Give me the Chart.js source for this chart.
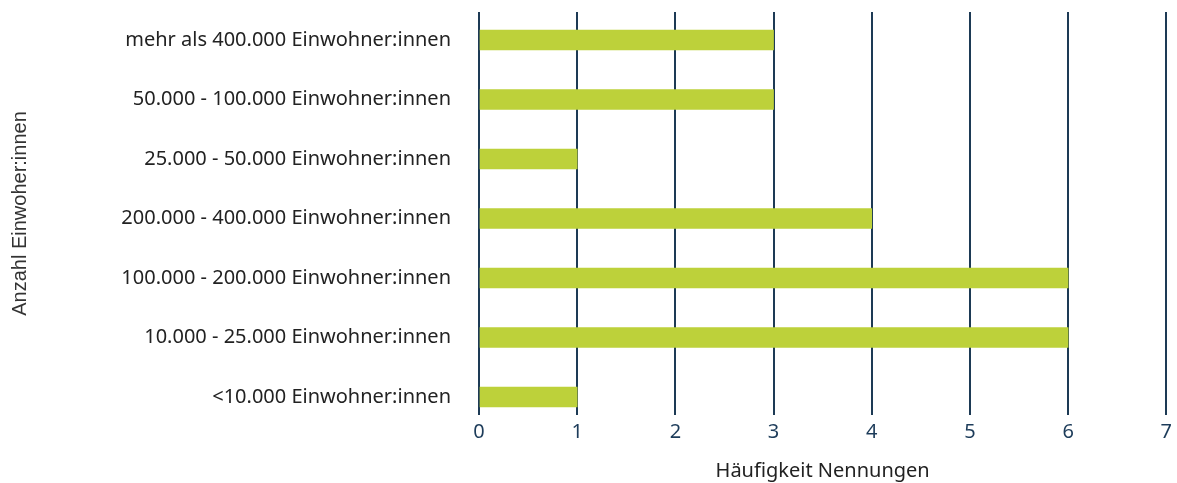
<!DOCTYPE html>
<html>
<head>
<meta charset="utf-8">
<script src="https://cdn.jsdelivr.net/npm/chart.js@4/dist/chart.umd.min.js"></script>
<style>
html,body{margin:0;padding:0;background:#fff;}
#wrap{width:1177px;height:483px;}
</style>
</head>
<body>
<div id="wrap"><canvas id="c" width="1177" height="483"></canvas></div>
<script>
const categories = [
  "mehr als 400.000 Einwohner:innen",
  "50.000 - 100.000 Einwohner:innen",
  "25.000 - 50.000 Einwohner:innen",
  "200.000 - 400.000 Einwohner:innen",
  "100.000 - 200.000 Einwohner:innen",
  "10.000 - 25.000 Einwohner:innen",
  "<10.000 Einwohner:innen"
];
const values = [3, 3, 1, 4, 6, 6, 1];
const xTicks = [0, 1, 2, 3, 4, 5, 6, 7];
const xTitle = "Häufigkeit Nennungen";
const yTitle = "Anzahl Einwoher:innen";

const FONT = "'Noto Sans', sans-serif";
const data = values.map((v, i) => ({ x: v, y: i }));
const LEFT_PAD = 8;

const chart = new Chart(document.getElementById('c'), {
  type: 'bar',
  data: {
    datasets: [{
      data: data,
      backgroundColor: '#bdd13a',
      borderWidth: 0,
      barThickness: 20
    }]
  },
  options: {
    indexAxis: 'y',
    responsive: false,
    animation: false,
    layout: { padding: { top: 0, right: 8, left: LEFT_PAD, bottom: 0 } },
    plugins: { legend: { display: false }, tooltip: { enabled: false } },
    scales: {
      x: {
        type: 'linear',
        min: 0, max: 7,
        bounds: 'data',
        afterBuildTicks: s => { s.ticks = xTicks.map(v => ({ value: v })); },
        grid: { color: '#1d3a55', lineWidth: 2, drawTicks: false },
        border: { display: false },
        ticks: { color: '#1d3c5a', font: { family: FONT, size: 20 }, padding: 5 },
        title: { display: true, text: xTitle, color: '#222', font: { family: FONT, size: 20 }, padding: { top: 10, bottom: 0 } }
      },
      y: {
        type: 'linear',
        reverse: true,
        offset: false,
        bounds: 'data',
        min: -0.4706, max: 6.3025,
        afterBuildTicks: s => { s.ticks = categories.map((c, i) => ({ value: i })); },
        afterFit: s => { s.width = 479 - LEFT_PAD; },
        grid: { display: false, offset: false, drawTicks: true, tickLength: 28 },
        border: { display: false },
        ticks: {
          color: '#222',
          font: { family: FONT, size: 20 },
          padding: 0,
          callback: v => categories[v]
        },
        title: { display: true, text: yTitle, color: '#333', font: { family: "'Liberation Sans', Arial, sans-serif", size: 20 }, padding: { top: 0, bottom: 0 } }
      }
    }
  }
});
</script>
</body>
</html>
